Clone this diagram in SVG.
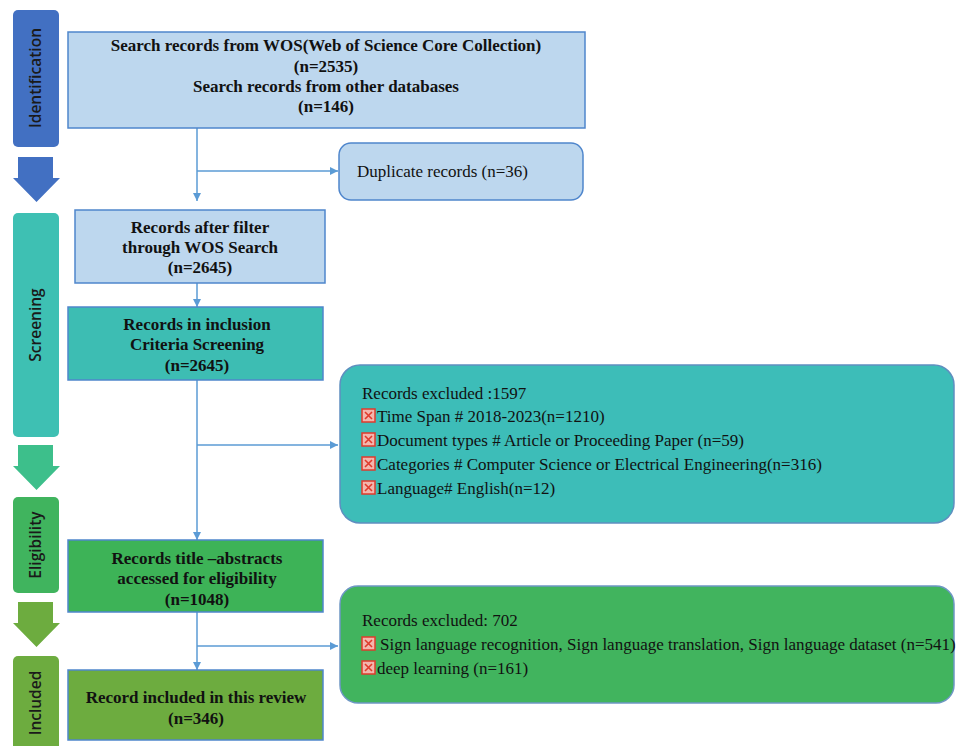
<svg xmlns="http://www.w3.org/2000/svg" width="956" height="746" viewBox="0 0 956 746">
  <defs>
    <marker id="arrow" viewBox="0 0 10 10" refX="10" refY="5" markerWidth="8" markerHeight="8" markerUnits="userSpaceOnUse" orient="auto">
      <path d="M0,0 L10,5 L0,10 Z" fill="#5B9BD5"/>
    </marker>
    <g id="xmark">
      <rect x="0" y="0" width="13" height="13" fill="#f3b6ad" stroke="#e03a2c" stroke-width="1.5"/>
      <path d="M3,3 L10,10 M10,3 L3,10" stroke="#e03a2c" stroke-width="1.6"/>
    </g>
  </defs>
  <style>
    .bold { font-family: "Liberation Serif", "Times New Roman", serif; font-weight: bold; font-size: 17px; fill: #111; text-anchor: middle; }
    .reg { font-family: "Liberation Serif", "Times New Roman", serif; font-size: 17px; fill: #111; }
    .side { font-family: "Open Sans", "Noto Sans", sans-serif; font-weight: 600; font-size: 15.5px; fill: #1a1a1a; text-anchor: middle; }
    .conn { fill: none; stroke: #5B9BD5; stroke-width: 1.5; }
    .boxline { stroke: #4F86CC; stroke-width: 1.5; }
  </style>
  <rect width="956" height="746" fill="#ffffff"/>

  <!-- Phase sidebars -->
  <g id="phase-identification">
    <rect x="13" y="10" width="46" height="137" rx="5" fill="#4270C2"/>
    <text class="side" transform="translate(41,78) rotate(-90)">Identification</text>
  </g>
  <g id="phase-arrow-1">
    <path d="M18,157 H53 V178 H60 L36.5,202 L13,178 H18 Z" fill="#4270C2"/>
  </g>
  <g id="phase-screening">
    <rect x="13" y="213" width="46" height="224" rx="5" fill="#3EC0B3"/>
    <text class="side" transform="translate(41,325) rotate(-90)">Screening</text>
  </g>
  <g id="phase-arrow-2">
    <path d="M18,445 H53 V466 H60 L36.5,490 L13,466 H18 Z" fill="#3DBF8B"/>
  </g>
  <g id="phase-eligibility">
    <rect x="13" y="497" width="46" height="96" rx="5" fill="#40B45E"/>
    <text class="side" transform="translate(41,545) rotate(-90)">Eligibility</text>
  </g>
  <g id="phase-arrow-3">
    <path d="M18,602 H53 V623 H60 L36.5,647 L13,623 H18 Z" fill="#6DAC3F"/>
  </g>
  <g id="phase-included">
    <rect x="13" y="656" width="46" height="100" rx="5" fill="#6DAC3F"/>
    <text class="side" transform="translate(41,703) rotate(-90)">Included</text>
  </g>

  <!-- Connectors -->
  <g id="connectors">
    <path class="conn" d="M197,128 V201" marker-end="url(#arrow)"/>
    <path class="conn" d="M197,171 H338" marker-end="url(#arrow)"/>
    <path class="conn" d="M197,283 V307" marker-end="url(#arrow)"/>
    <path class="conn" d="M197,380 V540" marker-end="url(#arrow)"/>
    <path class="conn" d="M197,445 H338" marker-end="url(#arrow)"/>
    <path class="conn" d="M197,612 V670" marker-end="url(#arrow)"/>
    <path class="conn" d="M197,646 H338" marker-end="url(#arrow)"/>
  </g>

  <!-- Flow boxes -->
  <g id="search-records">
    <rect class="boxline" x="68" y="32" width="517" height="96" fill="#BDD7EE"/>
    <text class="bold" x="326" y="51">Search records from WOS(Web of Science Core Collection)</text>
    <text class="bold" x="326" y="72">(n=2535)</text>
    <text class="bold" x="326" y="92">Search records from other databases</text>
    <text class="bold" x="326" y="112">(n=146)</text>
  </g>

  <g id="duplicates">
    <rect class="boxline" x="339" y="143" width="244" height="57" rx="12" fill="#BDD7EE" stroke="#6C93C4"/>
    <text class="reg" x="357" y="177">Duplicate records (n=36)</text>
  </g>

  <g id="after-filter">
    <rect class="boxline" x="75" y="210" width="250" height="73" fill="#BDD7EE"/>
    <text class="bold" x="200" y="233">Records after filter</text>
    <text class="bold" x="200" y="253">through WOS Search</text>
    <text class="bold" x="200" y="273">(n=2645)</text>
  </g>

  <g id="inclusion-screening">
    <rect class="boxline" x="68" y="307" width="255" height="73" fill="#3DBDB3"/>
    <text class="bold" x="197" y="330">Records in inclusion</text>
    <text class="bold" x="197" y="350">Criteria Screening</text>
    <text class="bold" x="197" y="371">(n=2645)</text>
  </g>

  <g id="excluded-screening">
    <rect x="340" y="365" width="614" height="158" rx="20" fill="#3DBDB8" stroke="#5F8FC0" stroke-width="1.5"/>
    <text class="reg" x="362" y="399">Records excluded :1597</text>
    <use href="#xmark" x="362" y="409"/>
    <text class="reg" x="377" y="422">Time Span # 2018-2023(n=1210)</text>
    <use href="#xmark" x="362" y="433"/>
    <text class="reg" x="377" y="446">Document types # Article or Proceeding Paper (n=59)</text>
    <use href="#xmark" x="362" y="457"/>
    <text class="reg" x="377" y="470">Categories # Computer Science or Electrical Engineering(n=316)</text>
    <use href="#xmark" x="362" y="481"/>
    <text class="reg" x="377" y="494">Language# English(n=12)</text>
  </g>

  <g id="eligibility-assessment">
    <rect class="boxline" x="68" y="540" width="255" height="72" fill="#3DB357"/>
    <text class="bold" x="197" y="564">Records title –abstracts</text>
    <text class="bold" x="197" y="584">accessed for eligibility</text>
    <text class="bold" x="197" y="605">(n=1048)</text>
  </g>

  <g id="excluded-eligibility">
    <rect x="340" y="586" width="614" height="117" rx="18" fill="#41B45E" stroke="#6E97C4" stroke-width="1.5"/>
    <text class="reg" x="362" y="626">Records excluded: 702</text>
    <use href="#xmark" x="362" y="637"/>
    <text class="reg" x="380" y="650">Sign language recognition, Sign language translation, Sign language dataset (n=541)</text>
    <use href="#xmark" x="362" y="661"/>
    <text class="reg" x="377" y="674">deep learning (n=161)</text>
  </g>

  <g id="included-review">
    <rect class="boxline" x="68" y="670" width="255" height="70" fill="#6DAC3F"/>
    <text class="bold" x="196" y="703">Record included in this review</text>
    <text class="bold" x="196" y="724">(n=346)</text>
  </g>
</svg>
